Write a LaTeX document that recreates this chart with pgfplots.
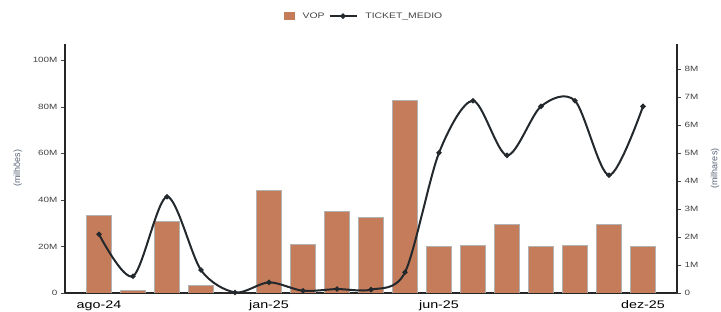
\documentclass[border=0pt]{standalone}
\usepackage{pgfplots}
\pgfplotsset{compat=1.18}
\usepackage{fontspec}
\setmainfont{Liberation Sans}
\usepackage{graphicx}
\definecolor{barc}{HTML}{C47C5A}
\definecolor{ln}{HTML}{23282C}
\definecolor{tk}{HTML}{444444}
\definecolor{lab}{HTML}{5A6478}
\newcommand{\sx}[1]{\scalebox{1.3}[1]{#1}}
\begin{document}
\begin{tikzpicture}
\useasboundingbox (0,0) rectangle (721pt,312pt);
\begin{axis}[
 at={(65pt,19pt)}, anchor=south west, scale only axis, width=612pt, height=249pt,
 xmin=-1, xmax=17, ymin=0, ymax=107,
 axis x line*=bottom, axis y line*=left,
 axis line style={draw=black!85, line width=1.1pt, -},
 xtick={0,5,10,16}, xticklabels={\sx{ago-24},\sx{jan-25},\sx{jun-25},\sx{dez-25}},
 x tick label style={font=\fontsize{11}{12}\selectfont, text=black},
 major x tick style={draw=none},
 ytick={0,20,40,60,80,100}, yticklabels={\sx{0},\sx{20M},\sx{40M},\sx{60M},\sx{80M},\sx{100M}},
 y tick label style={font=\fontsize{7.6}{8}\selectfont, text=tk},
 major y tick style={draw=tk, line width=0.6pt}, tick align=outside, major tick length=4pt,
 ylabel={(milhões)}, ylabel style={at={(rel axis cs:-0.077,0.5)}, anchor=center, font=\fontsize{9}{10}\selectfont, text=lab},
 ybar, bar width=25pt,
]
\addplot[fill=barc, draw=black!30, line width=0.7pt] coordinates {
 (0,33.3) (1,1.0) (2,30.9) (3,3.3) (4,0) (5,44.1) (6,20.8) (7,34.9) (8,32.6)
 (9,82.8) (10,20.0) (11,20.6) (12,29.3) (13,20.0) (14,20.6) (15,29.3) (16,20.0)};
\end{axis}
\begin{axis}[
 at={(65pt,19pt)}, anchor=south west, scale only axis, width=612pt, height=249pt,
 xmin=-1, xmax=17, ymin=0, ymax=8.9,
 axis x line=none, axis y line*=right,
 axis line style={draw=black!85, line width=1.1pt, -},
 ytick={0,1,2,3,4,5,6,7,8}, yticklabels={\sx{0},\sx{1M},\sx{2M},\sx{3M},\sx{4M},\sx{5M},\sx{6M},\sx{7M},\sx{8M}},
 y tick label style={font=\fontsize{7.6}{8}\selectfont, text=tk},
 major y tick style={draw=tk, line width=0.6pt}, tick align=outside, major tick length=4pt,
 ylabel={(milhares)}, ylabel style={at={(rel axis cs:1.062,0.5)}, anchor=center, rotate=0, font=\fontsize{9}{10}\selectfont, text=lab},
 legend style={at={(rel axis cs:0.489,1.112)}, anchor=center, draw=none, fill=none,
   legend columns=-1, font=\fontsize{8}{9}\selectfont, text=tk,
   /tikz/every even column/.append style={column sep=2pt},
   /tikz/every odd column/.append style={column sep=6pt}},
]
\addlegendimage{legend image code/.code={\fill[barc] (4pt,-3.5pt) rectangle (14pt,3.5pt);}}
\addlegendentry{\sx{VOP}}
\addplot[ln, line width=2pt, smooth, tension=0.5, mark=*, mark size=1.5pt,
  legend image code/.code={\draw[ln, line width=1.8pt] (0pt,0pt)--(27pt,0pt); \fill[ln] (13.5pt,0pt) circle (1.6pt);}]
 coordinates {
 (0,2.10) (1,0.60) (2,3.44) (3,0.82) (4,0.02) (5,0.38) (6,0.08) (7,0.14) (8,0.12)
 (9,0.74) (10,5.01) (11,6.87) (12,4.92) (13,6.67) (14,6.87) (15,4.21) (16,6.67)};
\addlegendentry{\sx{TICKET\_MEDIO}}
\end{axis}
\end{tikzpicture}
\end{document}
